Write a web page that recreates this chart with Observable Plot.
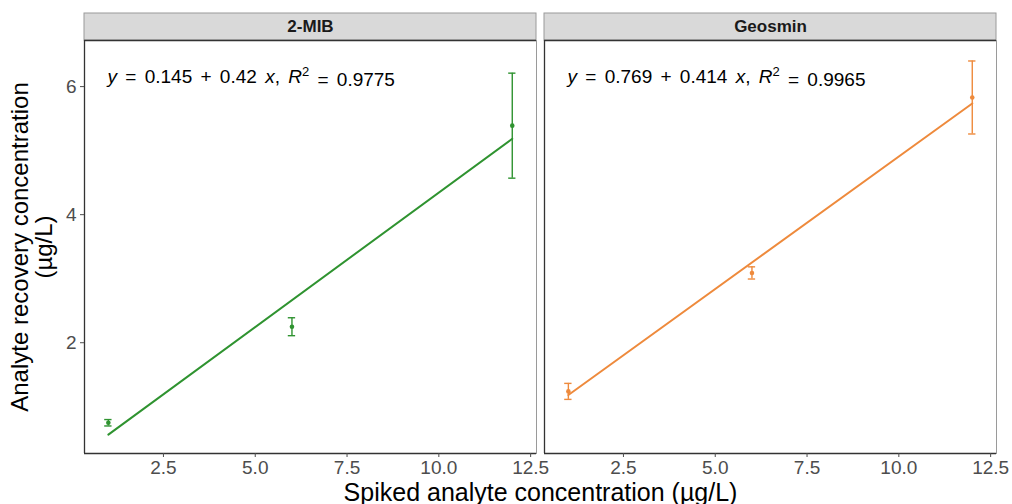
<!DOCTYPE html>
<html>
<head>
<meta charset="utf-8">
<script src="https://cdn.jsdelivr.net/npm/d3@7"></script>
<script src="https://cdn.jsdelivr.net/npm/@observablehq/plot@0.6"></script>
<style>
  html, body { margin: 0; padding: 0; background: #fff; }
  #chart { width: 1012px; height: 504px; }
</style>
</head>
<body>
<div id="chart"></div>
<script>
// ---- data ----
const panels = ["2-MIB", "Geosmin"];
const conc = [1, 6, 12];
const mibMean = [0.75, 2.25, 5.39];
const mibSd = [0.05, 0.14, 0.82];
const geoMean = [1.24, 3.09, 5.83];
const geoSd = [0.125, 0.095, 0.57];
const intercepts = [0.145, 0.769];
const slopes = [0.42, 0.414];
const r2 = [0.9775, 0.9965];
const xTicks = [2.5, 5.0, 7.5, 10.0, 12.5];
const yTicks = [2, 4, 6];
const colors = ["#2f9330", "#ee8a3c"];

// ---- tables built from the arrays ----
const means = [mibMean, geoMean];
const sds = [mibSd, geoSd];
const points = panels.flatMap((p, i) => conc.map((c, j) => ({panel: p, conc: c, value: means[i][j], sd: sds[i][j]})));
const fits = panels.flatMap((p, i) => [d3.min(conc), d3.max(conc)].map(c => ({panel: p, conc: c, value: intercepts[i] + slopes[i] * c})));
const eqs = panels.map((p, i) => ({panel: p, label: `y = ${intercepts[i]} + ${slopes[i]} x, R2 = ${r2[i]}`}));
const strips = panels.map(p => ({panel: p}));

const xDomain = [0.35, 12.66];
const yDomain = [0.27, 6.72];
const capHalf = 0.1;

const chart = Plot.plot({
  width: 1012,
  height: 504,
  marginLeft: 84,
  marginRight: 16,
  marginTop: 40,
  marginBottom: 51,
  style: {fontFamily: "'Liberation Sans', Arial, sans-serif", fontSize: "15px", background: "#fff", overflow: "visible"},
  fx: {domain: panels, axis: null, paddingInner: 0.0174, paddingOuter: 0},
  x: {domain: xDomain},
  y: {domain: yDomain},
  color: {domain: panels, range: colors},
  marks: [
    Plot.frame({stroke: "#9a9a9a"}),
    Plot.rect(strips, {fx: "panel", x1: xDomain[0], x2: xDomain[1], y1: yDomain[1], y2: yDomain[1], insetTop: -27, fill: "#d9d9d9", stroke: "#9a9a9a"}),
    Plot.ruleX(strips, {fx: "panel", x: xDomain[0], stroke: "#333", strokeWidth: 1.3}),
    Plot.ruleY(strips, {fx: "panel", y: yDomain[0], stroke: "#333", strokeWidth: 1.3}),
    Plot.ruleY(strips, {fx: "panel", y: yDomain[1], stroke: "#333", strokeWidth: 1.3}),
    Plot.axisX({ticks: xTicks, tickFormat: d3.format(".1f"), tickSize: 4, tickPadding: 3, fontSize: 19, color: "#4d4d4d", label: null}),
    Plot.axisY({ticks: yTicks, tickFormat: d3.format("d"), tickSize: 4, tickPadding: 4, fontSize: 19, color: "#4d4d4d", label: null}),
    Plot.ruleX(points, {fx: "panel", x: "conc", y1: d => d.value - d.sd, y2: d => d.value + d.sd, stroke: "panel", strokeWidth: 1.4}),
    Plot.ruleY(points, {fx: "panel", y: d => d.value - d.sd, x1: d => d.conc - capHalf, x2: d => d.conc + capHalf, stroke: "panel", strokeWidth: 1.4}),
    Plot.ruleY(points, {fx: "panel", y: d => d.value + d.sd, x1: d => d.conc - capHalf, x2: d => d.conc + capHalf, stroke: "panel", strokeWidth: 1.4}),
    Plot.line(fits, {fx: "panel", x: "conc", y: "value", z: "panel", stroke: "panel", strokeWidth: 2}),
    Plot.dot(points, {fx: "panel", x: "conc", y: "value", fill: "panel", r: 2.3}),
    Plot.text(eqs, {fx: "panel", text: "label", frameAnchor: "top-left", textAnchor: "start", lineAnchor: "middle", dx: 23, dy: 36, fontSize: 19, fill: "#000"}),
    Plot.text(strips, {fx: "panel", text: "panel", frameAnchor: "top", lineAnchor: "middle", dy: -13.5, fontSize: 17, fontWeight: "bold", fill: "#1a1a1a"}),
    Plot.text([strips[0]], {fx: "panel", text: () => "Analyte recovery concentration\n(µg/L)", frameAnchor: "left", textAnchor: "middle", lineAnchor: "middle", rotate: -90, dx: -52, fontSize: 24, lineHeight: 1, fill: "#000"}),
    Plot.text([strips[0]], {fx: "panel", text: () => "Spiked analyte concentration (µg/L)", frameAnchor: "bottom-right", textAnchor: "middle", lineAnchor: "middle", dx: 4, dy: 39, fontSize: 25, fill: "#000"})
  ]
});

// italic variables, operator spacing and superscript in the equations
const NS = "http://www.w3.org/2000/svg";
chart.querySelectorAll("text").forEach(t => {
  const s = t.textContent;
  const m = s.match(/^y = (.+) \+ (.+) x, R2 = (.+)$/);
  if (!m) return;
  while (t.firstChild) t.removeChild(t.firstChild);
  t.setAttribute("word-spacing", "3");
  const parts = [
    ["y", "i"], [" = " + m[1] + " + " + m[2] + " ", ""], ["x", "i"], [", ", ""],
    ["R", "i"], ["2", "sup"], [" = " + m[3], "after"]
  ];
  parts.forEach(([txt, kind]) => {
    const sp = document.createElementNS(NS, "tspan");
    sp.textContent = txt;
    if (kind === "i") sp.setAttribute("font-style", "italic");
    if (kind === "sup") { sp.setAttribute("dy", "-0.5em"); sp.setAttribute("font-size", "13"); }
    if (kind === "after") sp.setAttribute("dy", "0.5em");
    t.appendChild(sp);
  });
});

document.getElementById("chart").appendChild(chart);
</script>
</body>
</html>
